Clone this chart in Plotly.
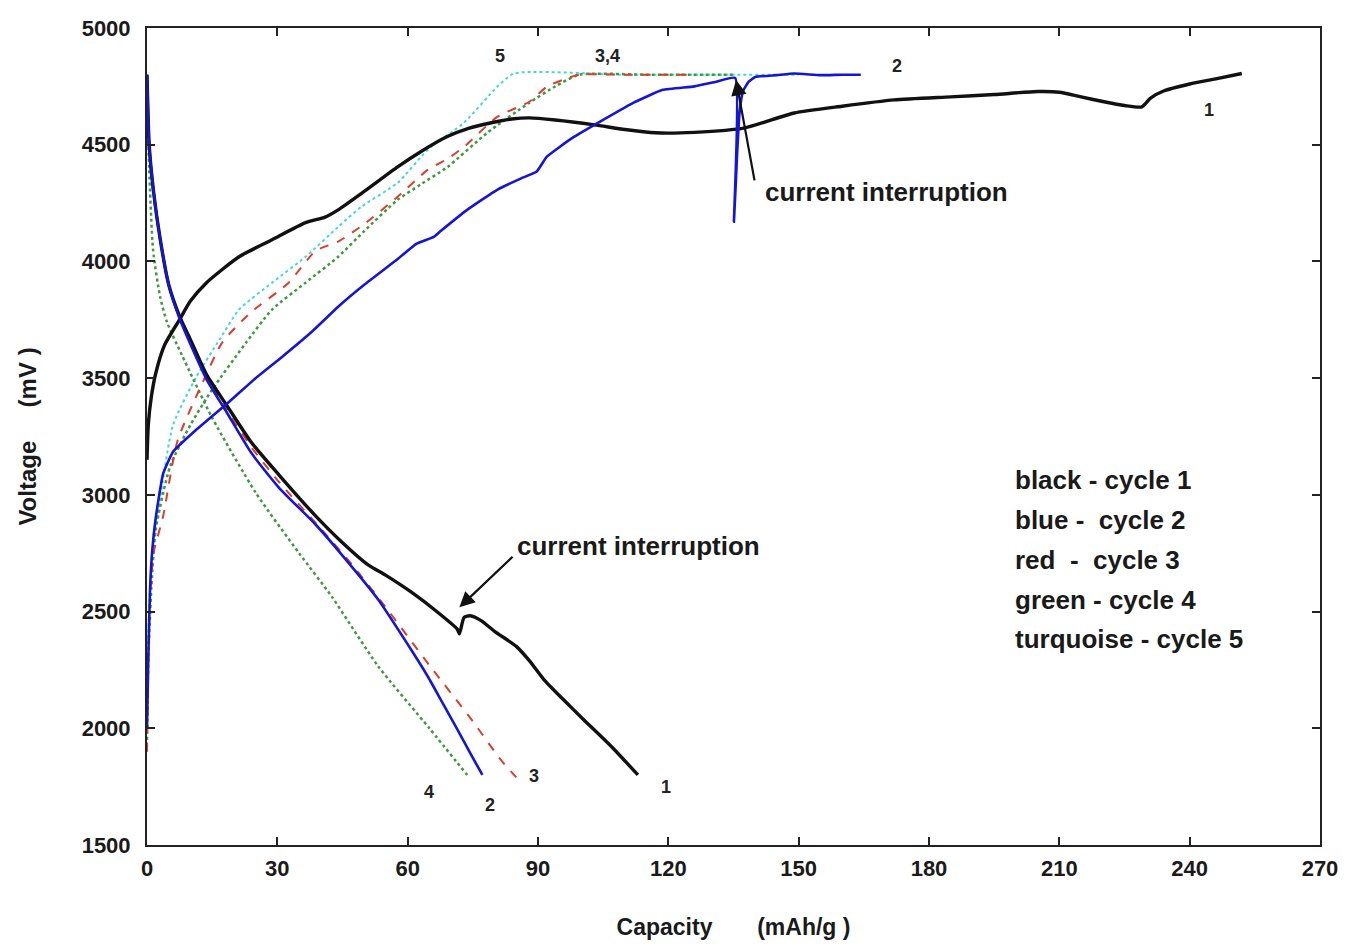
import plotly.graph_objects as go

# ---------------- data ----------------
# cycle 1 (black)
c1_chg_x = [0, 0.3, 1, 2, 4, 7.5, 10, 13.7, 21.2, 28.8, 36.5, 41, 44, 50, 57.7, 63, 69, 74, 79, 84, 88, 94, 103, 110, 117, 126, 137.6, 149, 160, 172, 185, 195, 205, 210, 215, 220, 225, 229, 231, 234, 240, 246, 252]
c1_chg_v = [3150, 3300, 3420, 3520, 3640, 3751, 3830, 3909, 4020, 4093, 4166, 4190, 4221, 4300, 4405, 4470, 4534, 4570, 4593, 4610, 4615, 4606, 4585, 4565, 4551, 4553, 4572, 4636, 4665, 4692, 4705, 4715, 4728, 4725, 4705, 4685, 4668, 4662, 4700, 4730, 4760, 4782, 4805]
c1_dis_x = [0, 0.5, 1.5, 3, 5, 7.5, 10, 13.7, 18.3, 24, 30.4, 38.8, 45, 50.9, 55, 60.7, 66.9, 71.4, 71.9, 73.0, 74.4, 77, 80, 85, 88, 91.3, 96, 100.4, 107, 113]
c1_dis_v = [4800, 4500, 4300, 4100, 3900, 3765, 3665, 3515, 3385, 3225, 3085, 2910, 2795, 2700, 2655, 2585, 2497, 2425, 2405, 2475, 2482, 2460, 2415, 2351, 2290, 2210, 2120, 2039, 1920, 1800]

# cycle 2 (blue)
c2_chg_x = [0, 0.3, 0.7, 1.2, 2, 3.7, 6, 11.4, 19, 25, 31, 38, 44, 50, 57.7, 62, 66, 67.6, 74, 80.6, 86, 89.7, 92, 98, 105, 112, 118.7, 126, 131, 135.4, 135.1, 135.8, 136.4, 137.2, 138.5, 140, 145, 149, 155, 160, 164.3]
c2_chg_v = [2000, 2300, 2595, 2760, 2900, 3090, 3185, 3280, 3400, 3500, 3590, 3700, 3806, 3900, 4010, 4075, 4105, 4130, 4225, 4307, 4355, 4385, 4448, 4530, 4606, 4680, 4735, 4750, 4770, 4786, 4170, 4450, 4640, 4730, 4770, 4790, 4798, 4805, 4798, 4800, 4800]
c2_dis_x = [0, 0.5, 1.5, 3, 5, 7.5, 10, 13.7, 18.3, 24, 30.4, 38.8, 45, 53.2, 60, 64.6, 68, 71.4, 74.5, 77.2]
c2_dis_v = [4800, 4500, 4300, 4100, 3900, 3755, 3645, 3495, 3355, 3180, 3030, 2873, 2740, 2552, 2360, 2223, 2110, 1996, 1890, 1800]

# cycle 3 (red, dashed)
c3_chg_x = [0, 0.3, 0.7, 1.5, 3.7, 7, 12.8, 17.3, 23.5, 32.6, 38.8, 44, 50, 57.7, 64.6, 69.2, 73, 80.6, 88.1, 92, 96, 99.5, 110, 125]
c3_chg_v = [1900, 2300, 2550, 2750, 2907, 3230, 3481, 3652, 3775, 3909, 4045, 4085, 4160, 4277, 4392, 4440, 4491, 4619, 4685, 4748, 4780, 4800, 4800, 4800]
c3_dis_x = [0, 0.5, 1.5, 3, 5, 7.5, 10, 13.7, 18.3, 24, 30.4, 40, 47, 54.8, 65, 75, 81.3, 85]
c3_dis_v = [4800, 4480, 4280, 4090, 3900, 3762, 3655, 3505, 3365, 3205, 3055, 2855, 2705, 2522, 2270, 2030, 1868, 1790]

# cycle 4 (green, dotted)
c4_chg_x = [0, 0.3, 1, 2, 5.3, 10, 15, 22.8, 28.8, 36.5, 44, 50, 57.7, 63, 69.2, 78.3, 88, 94, 99.5, 115, 135]
c4_chg_v = [1950, 2300, 2600, 2850, 3121, 3300, 3451, 3652, 3794, 3909, 4020, 4130, 4264, 4330, 4405, 4551, 4680, 4750, 4800, 4800, 4800]
c4_dis_x = [0, 0.5, 1.4, 3, 4.6, 8, 15, 25, 35, 42.5, 53.2, 65, 73.7]
c4_dis_v = [4800, 4400, 4050, 3850, 3740, 3600, 3330, 3010, 2750, 2565, 2266, 2000, 1800]

# cycle 5 (turquoise, dotted)
c5_chg_x = [0, 0.3, 1, 3, 6, 11.4, 16.7, 21.2, 28.8, 36.5, 44, 49.3, 57.7, 64.6, 73, 80.6, 84.5, 110, 150]
c5_chg_v = [2000, 2400, 2700, 2980, 3300, 3507, 3665, 3794, 3909, 4020, 4148, 4234, 4337, 4478, 4595, 4748, 4805, 4800, 4800]

# curve end labels
end_label_text = ["5", "3,4", "2", "1", "4", "2", "3", "1"]
end_label_x = [81.3, 105.9, 172.6, 244.5, 65.0, 79.0, 89.0, 119.4]
end_label_v = [4880, 4880, 4837, 4649, 1727, 1671, 1795, 1748]

key_lines = ["black - cycle 1", "blue -  cycle 2", "red  -  cycle 3", "green - cycle 4", "turquoise - cycle 5"]
key_v = [3062, 2891, 2720, 2549, 2381]
key_x = 199.3

x_ticks = [0, 30, 60, 90, 120, 150, 180, 210, 240, 270]
y_ticks = [1500, 2000, 2500, 3000, 3500, 4000, 4500, 5000]

# ---------------- figure ----------------
BLACK = "#111111"
BLUE = "#1515d5"
RED = "#d8402e"
GREEN = "#3f9a3f"
CYAN = "#46d4e4"
TXT = "#1a1a1a"

fig = go.Figure()

def add(x, y, color, width, dash="solid", shape="spline", smoothing=0.6):
    fig.add_trace(go.Scatter(x=x, y=y, mode="lines",
                             line=dict(color=color, width=width, dash=dash, shape=shape, smoothing=smoothing),
                             showlegend=False, hoverinfo="skip", cliponaxis=False))

add(c5_chg_x, c5_chg_v, CYAN, 2, "dot")
add(c4_chg_x, c4_chg_v, GREEN, 2.5, "dot")
add(c4_dis_x, c4_dis_v, GREEN, 2.5, "dot")
add(c3_chg_x, c3_chg_v, RED, 2, "dash")
add(c3_dis_x, c3_dis_v, RED, 2, "dash")
add(c1_chg_x, c1_chg_v, BLACK, 3.4)
add(c1_dis_x, c1_dis_v, BLACK, 3.4)
add(c2_chg_x, c2_chg_v, BLUE, 2.6, "solid", "spline", 0.4)
add(c2_dis_x, c2_dis_v, BLUE, 2.6)

FONT = "Liberation Sans, Arial, sans-serif"

for t, x, v in zip(end_label_text, end_label_x, end_label_v):
    fig.add_annotation(x=x, y=v, text="<b>" + t + "</b>", showarrow=False,
                       font=dict(family=FONT, size=18, color="#222222"))

for t, v in zip(key_lines, key_v):
    fig.add_annotation(x=key_x, y=v, text="<b>" + t.replace("  ", "&nbsp; ") + "</b>", showarrow=False, xanchor="left",
                       font=dict(family=FONT, size=26, color=TXT))

# current interruption arrows
fig.add_annotation(x=135.6, y=4777, ax=139.9, ay=4341, axref="x", ayref="y",
                   text="", showarrow=True, arrowhead=2, arrowsize=1.4, arrowwidth=2.2, arrowcolor=BLACK)
fig.add_annotation(x=141.7, y=4298, text="<b>current interruption</b>", showarrow=False, xanchor="left",
                   font=dict(family=FONT, size=26, color=TXT))
fig.add_annotation(x=71.9, y=2518, ax=84.5, ay=2741, axref="x", ayref="y",
                   text="", showarrow=True, arrowhead=2, arrowsize=1.4, arrowwidth=2.2, arrowcolor=BLACK)
fig.add_annotation(x=84.7, y=2783, text="<b>current interruption</b>", showarrow=False, xanchor="left",
                   font=dict(family=FONT, size=26, color=TXT))

axis_common = dict(showline=True, linecolor="#222222", linewidth=2, mirror="ticks",
                   ticks="inside", ticklen=8, tickwidth=1.5, tickcolor="#222222",
                   showgrid=False, zeroline=False, ticklabeloverflow="allow",
                   tickfont=dict(family=FONT, size=22, color=TXT))

fig.update_layout(
    width=1350, height=948,
    margin=dict(l=147, r=15, t=28, b=102),
    paper_bgcolor="white", plot_bgcolor="white",
    xaxis=dict(range=[0, 270], tickvals=x_ticks, ticktext=["<b>%d</b>" % t for t in x_ticks],
               ticklabelstandoff=3,
               title=dict(text="<b>Capacity&nbsp;&nbsp;&nbsp;&nbsp;&nbsp;&nbsp; (mAh/g )</b>", font=dict(family=FONT, size=23, color=TXT), standoff=38),
               **axis_common),
    yaxis=dict(range=[1500, 5000], tickvals=y_ticks, ticktext=["<b>%d</b>" % t for t in y_ticks],
               ticklabelstandoff=10,
               title=dict(text="<b>Voltage&nbsp;&nbsp;&nbsp;&nbsp; (mV )</b>", font=dict(family=FONT, size=24, color=TXT), standoff=38),
               **axis_common),
)

# remove the default 8px page margin so the figure sits exactly in the window
fig.write_html("out.html", config={"displayModeBar": False},
               post_script="document.body.style.margin='0';document.body.style.overflow='hidden';")
